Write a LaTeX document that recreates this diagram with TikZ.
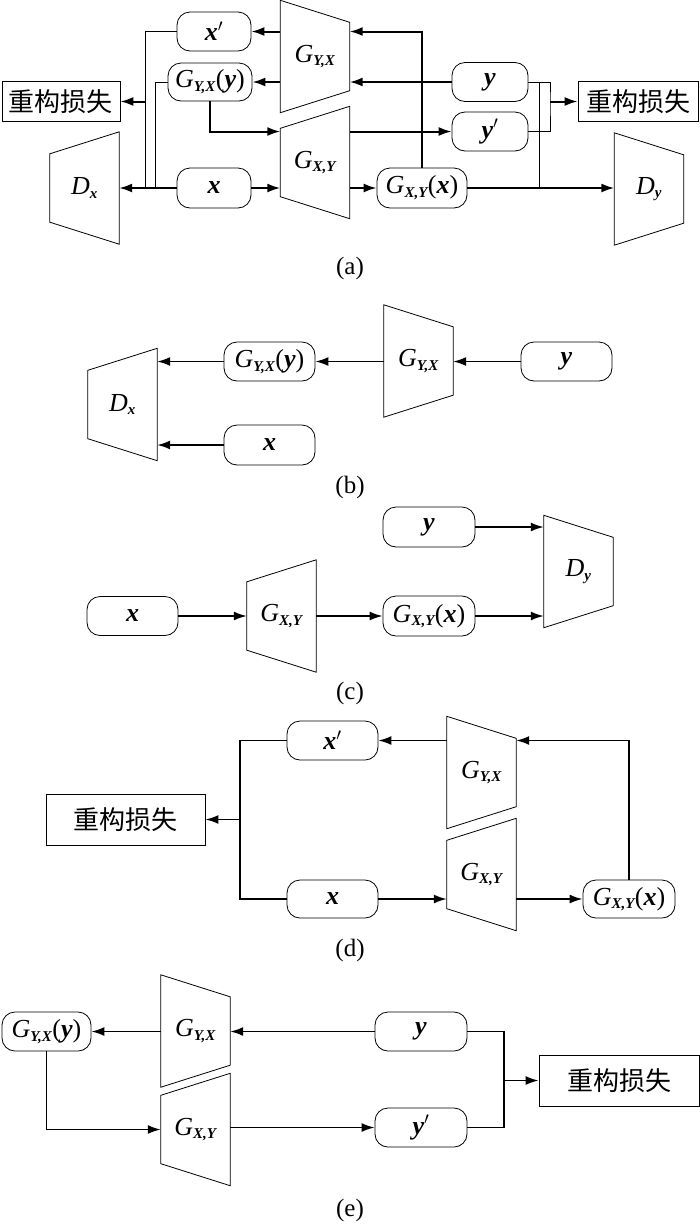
\documentclass[tikz,border=0pt]{standalone}
\usepackage{fontspec}
\setmainfont{Liberation Serif}
\newfontfamily\cjk{Noto Sans CJK SC}
\usetikzlibrary{arrows.meta}

\newcommand{\bvx}{\textbf{\textit{x}}}
\newcommand{\bvy}{\textbf{\textit{y}}}
\newcommand{\subfont}{\fontsize{15}{15}\selectfont\bfseries\itshape}
\newcommand{\Gen}[1]{\textit{G}\textsubscript{\subfont #1}}
\newcommand{\Dis}[1]{\textit{D}\textsubscript{\subfont #1}}

\tikzset{
  thinline/.style={line width=0.8pt},
  arr/.style={line width=1.7pt, -{Latex[length=13pt,width=9pt]}},
  blob/.style={draw, thinline, rounded corners=13pt, minimum width=91pt,
    minimum height=39pt, inner sep=0pt},
  lossbox/.style={draw, thinline, minimum width=159pt, minimum height=51pt,
    inner sep=0pt, font=\cjk\fontsize{26}{30}\selectfont},
  trap/.style={minimum width=69pt, minimum height=112pt, inner sep=0pt},
  trapL/.style={trap, append after command={\pgfextra{\let\trapnode\tikzlastnode
      \draw[thinline] (\trapnode.north west) -- ([yshift=-22pt]\trapnode.north east)
        -- ([yshift=22pt]\trapnode.south east) -- (\trapnode.south west) -- cycle;}}},
  trapR/.style={trap, append after command={\pgfextra{\let\trapnode\tikzlastnode
      \draw[thinline] ([yshift=-22pt]\trapnode.north west) -- (\trapnode.north east)
        -- (\trapnode.south east) -- ([yshift=22pt]\trapnode.south west) -- cycle;}}},
}

\begin{document}
\begin{tikzpicture}[x=1pt, y=-1pt, font=\fontsize{26}{30}\selectfont]
  \useasboundingbox (0,0) rectangle (700,1227);

  % (a)
  \begin{scope}[arr/.append style={line width=2pt}]
    \node[blob, minimum width=74pt] (xpa) at (214,31.5) {\bvx$'$};
    \node[blob, minimum width=84pt, minimum height=38pt] (gyya) at (210,82) {\Gen{Y,X}(\bvy)};
    \node[blob, minimum width=74pt, minimum height=40pt] (xa) at (214,188) {\bvx};
    \node[lossbox, minimum width=118pt, minimum height=40pt] (lossla) at (61,101.5) {重构损失};
    \node[trapR] (dxa) at (84.5,188) {\Dis{x}};
    \node[trapL] (gyxa) at (315,56.5) {\Gen{Y,X}};
    \node[trapR] (gxya) at (315,162.5) {\Gen{X,Y}};
    \node[blob, minimum width=76pt] (ya) at (490,82) {\bvy};
    \node[blob, minimum width=76pt] (ypa) at (490,131.5) {\bvy$'$};
    \node[blob, minimum width=90pt, minimum height=40pt] (gxa) at (422,188) {\Gen{X,Y}(\bvx)};
    \node[lossbox, minimum width=120pt, minimum height=40pt] (lossra) at (638,101.5) {重构损失};
    \node[trapL] (dya) at (649,189) {\Dis{y}};

    \coordinate (jla) at (145,101.5);
    \coordinate (jda) at (155,188);
    \coordinate (jra) at (550,101.5);
    \coordinate (jdya) at (539,188);

    \draw[arr] (gyxa.west |- xpa) -- (xpa);
    \draw[arr] (gyxa.west |- gyya) -- (gyya);
    \draw[arr] (xa) -- (dxa.east |- xa);
    \draw[arr] (xa) -- (gxya.west |- xa);
    \draw[arr] (gyya.south) |- ([yshift=31pt]gxya.west);
    \draw[arr] (gxa.north) |- (gyxa.east |- xpa);
    \draw[arr] (ya) -- (gyxa.east |- ya);
    \draw[arr] (gxya.east |- ypa) -- (ypa);
    \draw[arr] (gxya.east |- gxa) -- (gxa);
    \draw[arr] (gxa) -- (dya.west |- gxa);
    \draw[thinline] (xpa.west) -| (jla |- xa);
    \draw[thinline] (gyya.west) -| (jda);
    \draw[arr] (jla) -- (lossla);
    \draw[thinline] (ya.east) -| (jra) |- (ypa.east);
    \draw[thinline] (jdya) -- (jdya |- ya);
    \draw[arr] (jra) -- (lossra);
  \end{scope}

  % (b)
  \node[trapR] (dxb) at (122.5,404.5) {\Dis{x}};
  \node[blob] (gyyb) at (269.5,361.5) {\Gen{Y,X}(\bvy)};
  \node[blob, minimum height=40pt] (xb) at (269.5,445) {\bvx};
  \node[trapL] (gyxb) at (418.5,361) {\Gen{Y,X}};
  \node[blob] (yb) at (566.5,361.5) {\bvy};
  \draw[arr] (yb) -- (gyxb.east |- yb);
  \draw[arr] (gyxb.west |- gyyb) -- (gyyb);
  \draw[arr] (gyyb) -- (dxb.east |- gyyb);
  \draw[arr] (xb) -- (dxb.east |- xb);

  % (c)
  \node[blob] (xc) at (132.5,616) {\bvx};
  \node[trapR] (gxyc) at (281.5,616) {\Gen{X,Y}};
  \node[blob, minimum width=92pt, minimum height=40pt] (gxc) at (429,616) {\Gen{X,Y}(\bvx)};
  \node[blob, minimum width=92pt, minimum height=40pt] (yc) at (429,527) {\bvy};
  \node[trapL] (dyc) at (578.5,571.5) {\Dis{y}};
  \draw[arr] (xc) -- (gxyc.west |- xc);
  \draw[arr] (gxyc.east |- gxc) -- (gxc);
  \draw[arr] (gxc) -- (dyc.west |- gxc);
  \draw[arr] (yc) -- (dyc.west |- yc);

  % (d)
  \node[blob] (xpd) at (332.5,740.5) {\bvx$'$};
  \node[blob, minimum height=38pt] (xd) at (332.5,899) {\bvx};
  \node[lossbox] (lossd) at (125.5,819.5) {重构损失};
  \node[trapL] (gyxd) at (481.5,772.5) {\Gen{Y,X}};
  \node[trapR] (gxyd) at (481.5,874.5) {\Gen{X,Y}};
  \node[blob, minimum width=92pt, minimum height=38pt] (gxd) at (629,899) {\Gen{X,Y}(\bvx)};
  \coordinate (jd) at (240,819.5);
  \draw[arr] (gxd.north) |- (gyxd.east |- xpd);
  \draw[arr] (gyxd.west |- xpd) -- (xpd);
  \draw[arr] (xd) -- (gxyd.west |- xd);
  \draw[arr] (gxyd.east |- gxd) -- (gxd);
  \draw[line width=1.8pt] (xpd.west) -| (jd) |- (xd.west);
  \draw[arr, line width=1.8pt] (jd) -- (lossd);

  % (e)
  \node[blob, minimum width=89pt] (gyye) at (46.5,1031.5) {\Gen{Y,X}(\bvy)};
  \node[trapL] (gyxe) at (195.5,1031) {\Gen{Y,X}};
  \node[trapR] (gxye) at (195.5,1129.5) {\Gen{X,Y}};
  \node[blob, minimum width=92pt] (ye) at (421,1031.5) {\bvy};
  \node[blob, minimum width=92pt] (ype) at (421,1127.5) {\bvy$'$};
  \node[lossbox, minimum width=160pt] (losse) at (619,1080.5) {重构损失};
  \coordinate (je) at (504,1080.5);
  \draw[arr] (ye) -- (gyxe.east |- ye);
  \draw[arr] (gyxe.west |- gyye) -- (gyye);
  \draw[arr] (gyye.south) |- (gxye.west);
  \draw[arr] (gxye.east |- ype) -- (ype);
  \draw[line width=1.8pt] (ye.east) -| (je) |- (ype.east);
  \draw[arr, line width=1.8pt] (je) -- (losse);

  \foreach \lab/\yy in {a/268,b/487,c/693,d/950,e/1210}
    \node[font=\fontsize{25}{28}\selectfont] (cap\lab) at (350,\yy) {(\lab)};
\end{tikzpicture}
\end{document}
